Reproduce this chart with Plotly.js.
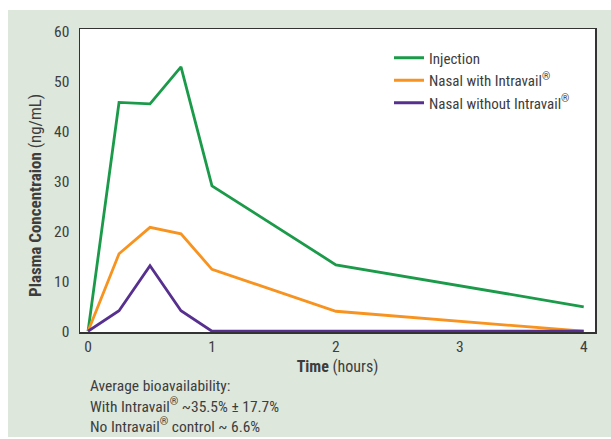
<!DOCTYPE html>
<html><head><meta charset="utf-8">
<script src="https://cdn.plot.ly/plotly-3.0.1.min.js"></script>
<style>
html,body{margin:0;padding:0;background:#fff;}
#bg{position:absolute;left:8px;top:10px;width:603px;height:427px;background:#dde7db;}
#chart{position:absolute;left:0;top:0;width:611px;height:439px;}
</style></head>
<body><div id="bg"></div><div id="chart"></div>
<script>
const hours = [0, 0.25, 0.5, 0.75, 1, 2, 4];
const injection = [0, 45.8, 45.5, 52.9, 29.1, 13.3, 4.9];
const nasalWith = [0, 15.5, 20.8, 19.5, 12.4, 4.0, 0];
const nasalWithout = [0, 4.1, 13.1, 4.1, 0, 0, 0];
const seriesNames = ["Injection", "Nasal with Intravail<sup>®</sup>", "Nasal without Intravail<sup>®</sup>"];
const noteLines = ["Average bioavailability:", "With Intravail<sup>®</sup> ~35.5% ± 17.7%", "No Intravail<sup>®</sup> control ~ 6.6%"];
const xTicks = [0, 1, 2, 3, 4];
const yTicks = [0, 10, 20, 30, 40, 50, 60];
const xTitle = '<b>Time</b> (hours)';
const yTitle = '<b>Plasma Concentraion</b> (ng/mL)';

const FONT = '"Roboto Condensed", Roboto, "Liberation Sans Narrow", sans-serif';
const TXT = '#3d3d3d';
const colors = ['#1b9a4a', '#f7931e', '#57308f'];
const ys = [injection, nasalWith, nasalWithout];
const traces = ys.map((y, i) => ({
  x: hours, y: y, type: 'scatter', mode: 'lines', name: seriesNames[i],
  line: {color: colors[i], width: 2.8}
}));

const L = 80, R = 595, T = 29, B = 332;
const W = R - L, H = B - T;
const notes = noteLines.map((t, i) => ({
  xref: 'paper', yref: 'paper', x: (88 - L) / W, y: (B - (386 + i * 19.5)) / H,
  xanchor: 'left', yanchor: 'middle', showarrow: false, text: t,
  font: {family: FONT, size: 15.5, color: TXT}
}));
notes.push({
  xref: 'paper', yref: 'paper', x: (35 - L) / W, y: (B - 196) / H,
  xanchor: 'center', yanchor: 'middle', showarrow: false, text: yTitle, textangle: -90,
  font: {family: FONT, size: 17, color: TXT}
});

const layout = {
  width: 611, height: 439,
  paper_bgcolor: 'rgba(0,0,0,0)', plot_bgcolor: '#fff',
  margin: {l: L, r: 611 - R, t: T, b: 439 - B},
  font: {family: FONT, color: TXT, size: 15},
  showlegend: true,
  legend: {x: (389 - L) / W, y: (B - 41.5) / H, xanchor: 'left', yanchor: 'top', bgcolor: 'rgba(0,0,0,0)',
    font: {family: FONT, size: 15, color: TXT}, tracegroupgap: 0},
  xaxis: {range: [-0.065, 4.091], tickvals: xTicks, showgrid: false, zeroline: false,
    showline: true, mirror: true, linecolor: '#333', linewidth: 1.5, ticks: '',
    tickfont: {size: 15.5},
    title: {text: xTitle, font: {size: 16}, standoff: 5}},
  yaxis: {range: [-0.15, 60.5], tickvals: yTicks, showgrid: false, zeroline: false,
    showline: true, mirror: true, linecolor: '#333', linewidth: 1.5, ticks: '',
    tickfont: {size: 15.5}, ticklabelstandoff: 6},
  annotations: notes
};
Plotly.newPlot('chart', traces, layout, {displayModeBar: false, staticPlot: true});
</script></body></html>
